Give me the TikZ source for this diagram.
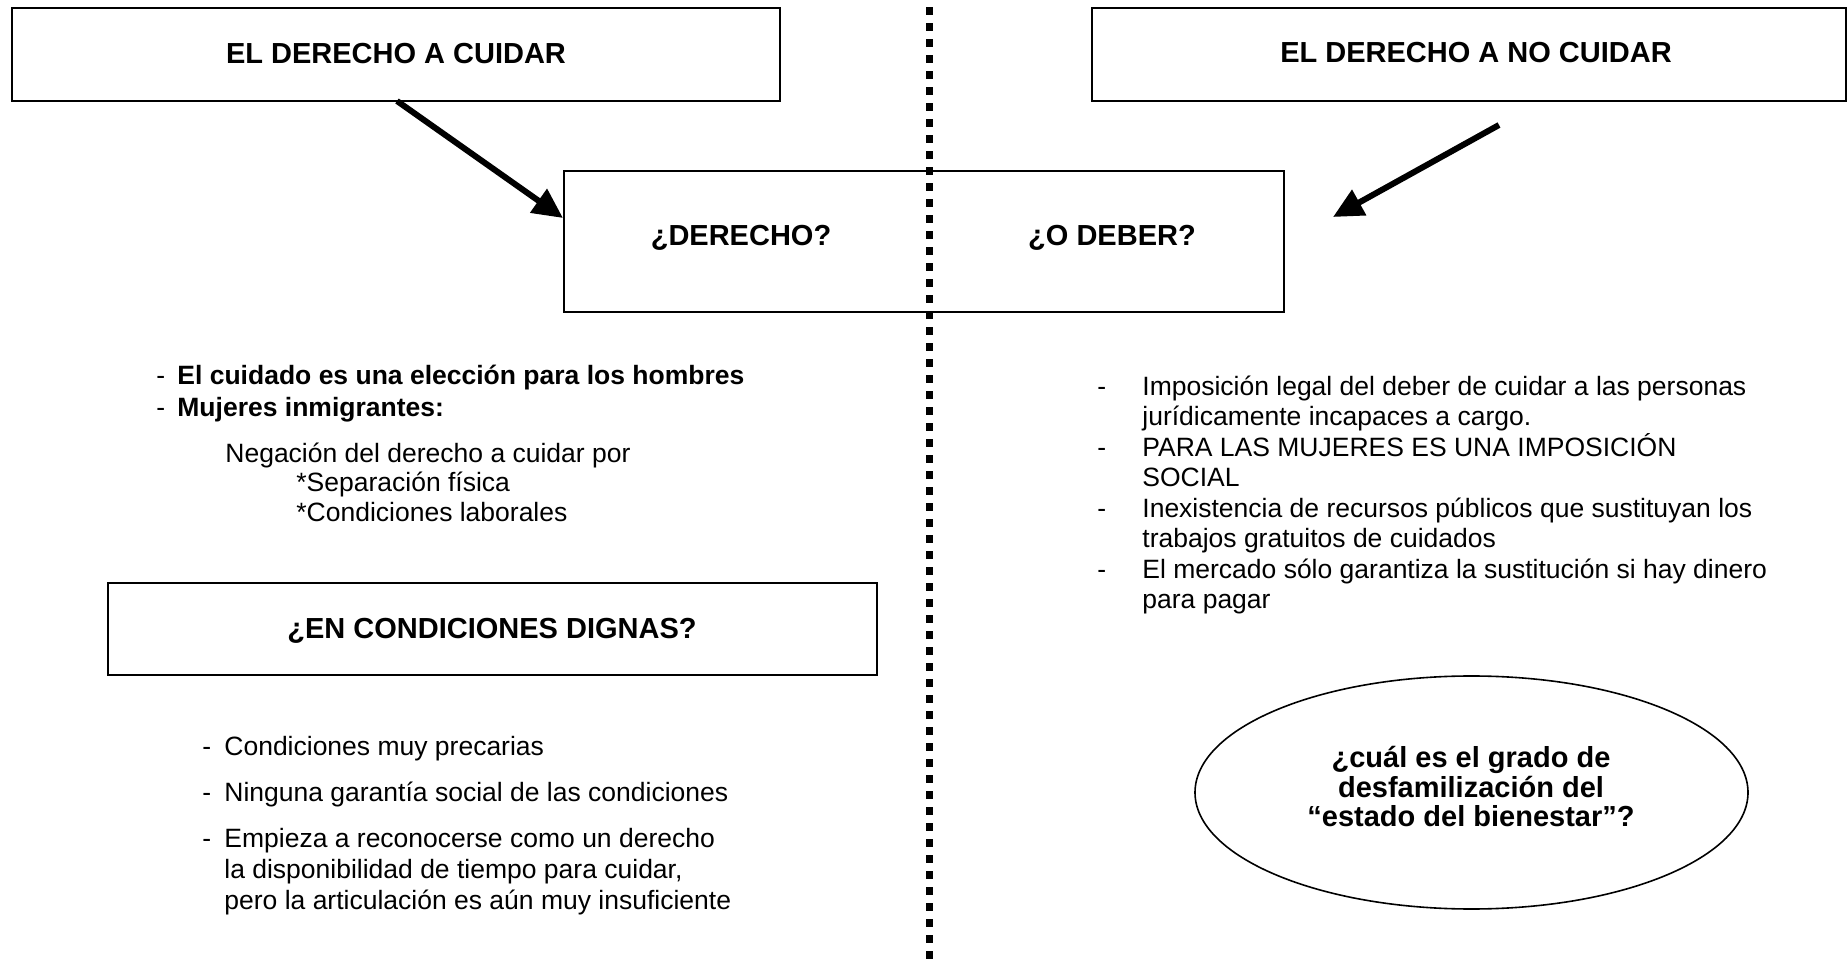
\documentclass[tikz,border=0pt]{standalone}
\usepackage{fontspec}
\setmainfont{Liberation Sans}
\usetikzlibrary{arrows.meta,shapes.geometric}
\begin{document}
\begin{tikzpicture}[x=0.5pt,y=-0.5pt,
  box/.style={draw,line width=1pt,inner sep=0pt},
  title/.style={font=\fontsize{14.5}{17}\selectfont\bfseries, inner sep=0pt, anchor=base},
  txt/.style={font=\fontsize{13.25}{15}\selectfont, inner sep=0pt, anchor=base west},
  btxt/.style={font=\fontsize{13.25}{15}\selectfont\bfseries, inner sep=0pt, anchor=base west},
  etxt/.style={font=\fontsize{14.5}{17}\selectfont\bfseries, inner sep=0pt, anchor=base},
  bigarrow/.style={line width=3pt, -{Triangle[length=15pt,width=14pt]}},
  divider/.style={line width=3.9pt, dash pattern=on 3.9pt off 4.1pt},
]
\useasboundingbox (0,0) rectangle (1848,967);
\fill[white] (0,0) rectangle (1848,967);

% boxes
\node[box, minimum width=384pt, minimum height=46.5pt] (b1) at (396,54.5) {};
\node[box, minimum width=377pt, minimum height=46.5pt] (b2) at (1469,54.5) {};
\node[box, minimum width=360pt, minimum height=70.5pt] (bc) at (924,241.5) {};
\node[box, minimum width=384.5pt, minimum height=46pt] (b3) at (492.5,629) {};
\node[draw, line width=0.8pt, ellipse, minimum width=276.5pt, minimum height=116.5pt, inner sep=0pt] (el) at (1471.5,792.5) {};

% divider
\coordinate (dtop) at (929.5,7.3);
\coordinate (dbot) at (929.5,967);
\draw[divider] (dtop) -- (dbot);

% titles
\node[title] (t1) at (396,63.5) {EL DERECHO A CUIDAR};
\node[title] (t2) at (1476,62.5) {EL DERECHO A NO CUIDAR};
\node[title] (tc1) at (741,245.5) {¿DERECHO?};
\node[title] (tc2) at (1112,245.5) {¿O DEBER?};
\node[title] (t3) at (492,638.5) {¿EN CONDICIONES DIGNAS?};

% arrows
\coordinate (a1s) at (397,101);
\coordinate (a1e) at (563,218);
\coordinate (a2s) at (1499,125);
\coordinate (a2e) at (1333,217);
\draw[bigarrow] (a1s) -- (a1e);
\draw[bigarrow] (a2s) -- (a2e);

% left upper text
\node[txt] (ld1) at (156,385) {-};
\node[btxt] (l1) at (177,385) {El cuidado es una elección para los hombres};
\node[txt] (ld2) at (156,417) {-};
\node[btxt] (l2) at (177,417) {Mujeres inmigrantes:};
\node[txt] (l3) at (225,463) {Negación del derecho a cuidar por};
\node[txt] (l4) at (296,492) {*Separación física};
\node[txt] (l5) at (296,522) {*Condiciones laborales};

% left lower text
\node[txt] (md1) at (202,755) {-};
\node[txt] (m1) at (224,755) {Condiciones muy precarias};
\node[txt] (md2) at (202,801) {-};
\node[txt] (m2) at (224,801) {Ninguna garantía social de las condiciones};
\node[txt] (md3) at (202,847) {-};
\node[txt] (m3) at (224,847) {Empieza a reconocerse como un derecho};
\node[txt] (m4) at (224,878) {la disponibilidad de tiempo para cuidar,};
\node[txt] (m5) at (224,909) {pero la articulación es aún muy insuficiente};

% right text
\node[txt] (rd1) at (1097,396) {-};
\node[txt] (r1) at (1142,396) {Imposición legal del deber de cuidar a las personas};
\node[txt] (r2) at (1142,426) {jurídicamente incapaces a cargo.};
\node[txt] (rd2) at (1097,457) {-};
\node[txt] (r3) at (1142,457) {PARA LAS MUJERES ES UNA IMPOSICIÓN};
\node[txt] (r4) at (1142,487) {SOCIAL};
\node[txt] (rd3) at (1097,518) {-};
\node[txt] (r5) at (1142,518) {Inexistencia de recursos públicos que sustituyan los};
\node[txt] (r6) at (1142,548) {trabajos gratuitos de cuidados};
\node[txt] (rd4) at (1097,579) {-};
\node[txt] (r7) at (1142,579) {El mercado sólo garantiza la sustitución si hay dinero};
\node[txt] (r8) at (1142,609) {para pagar};

% ellipse text
\node[etxt] (e1) at (1471,768) {¿cuál es el grado de};
\node[etxt] (e2) at (1471,798) {desfamilización del};
\node[etxt] (e3) at (1471,827) {“estado del bienestar”?};
\end{tikzpicture}
\end{document}
